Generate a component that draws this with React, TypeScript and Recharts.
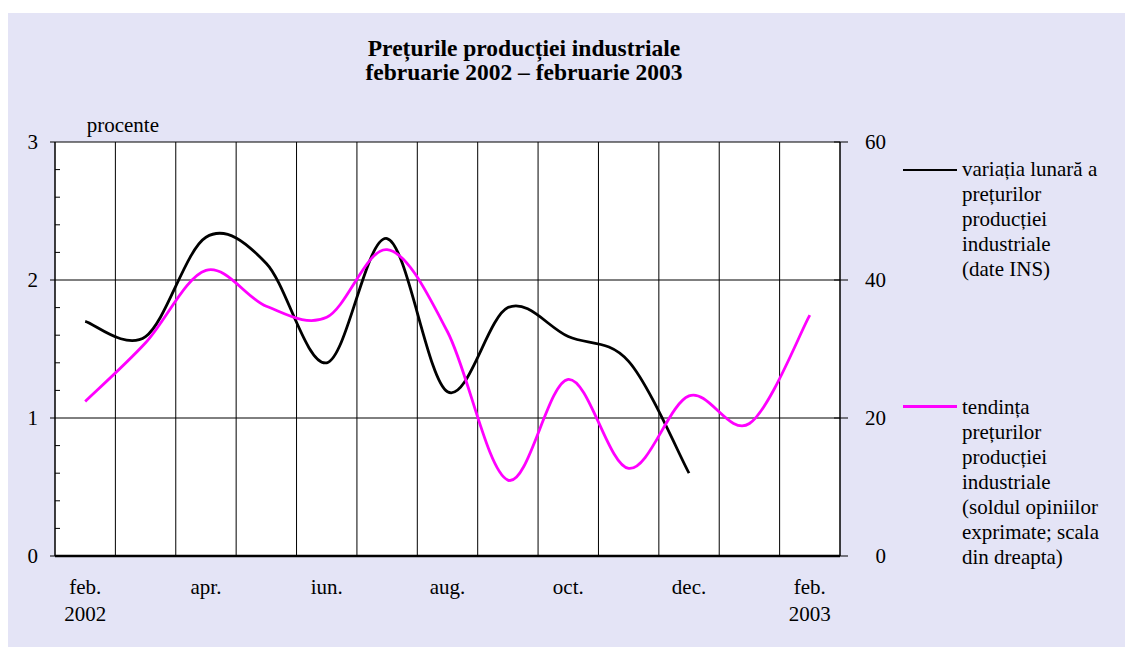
import React from "react";
import {
  CartesianGrid,
  ComposedChart,
  Legend,
  Line,
  XAxis,
  YAxis,
} from "recharts";

// feb. 2002 .. feb. 2003 ("|" splits the year onto a second line)
const months = [
  "feb.|2002", "mar.", "apr.", "mai", "iun.", "iul.", "aug.",
  "sep.", "oct.", "nov.", "dec.", "ian.", "feb.|2003",
];
// variatia lunara a preturilor (%), left scale
const monthlyChange = [1.7, 1.59, 2.31, 2.12, 1.4, 2.3, 1.19, 1.8, 1.59, 1.41, 0.6, null, null];
// tendinta preturilor (sold opinii), right scale
const priceTrend = [22.4, 30.9, 41.4, 36.2, 34.6, 44.4, 32.5, 11.0, 25.6, 12.7, 23.2, 19.2, 34.9];

const leftTicks = [0, 0.2, 0.4, 0.6, 0.8, 1, 1.2, 1.4, 1.6, 1.8, 2, 2.2, 2.4, 2.6, 2.8, 3];
const rightTicks = [0, 20, 40, 60];

const legendLines: Record<string, string[]> = {
  monthly: ["variația lunară a", "prețurilor", "producției", "industriale", "(date INS)"],
  trend: [
    "tendința", "prețurilor", "producției", "industriale",
    "(soldul opiniilor", "exprimate; scala", "din dreapta)",
  ],
};
const legendTop: Record<string, number> = { monthly: 0, trend: 238 };
const legendLineTop: Record<string, number> = { monthly: 11.2, trend: 9.8 };

const data = months.map((month, i) => ({
  month,
  monthly: monthlyChange[i],
  trend: priceTrend[i],
}));

const FONT = "'Liberation Serif', 'Times New Roman', serif";

// Excel-like smoothed line (Catmull-Rom through the points)
const smoothCurve = (context: any) => {
  let pts: [number, number][] = [];
  return {
    areaStart() {},
    areaEnd() {},
    lineStart() {
      pts = [];
    },
    point(x: number, y: number) {
      pts.push([+x, +y]);
    },
    lineEnd() {
      if (!pts.length) return;
      context.moveTo(pts[0][0], pts[0][1]);
      for (let i = 0; i < pts.length - 1; i++) {
        const p0 = pts[i - 1] || pts[i];
        const p1 = pts[i];
        const p2 = pts[i + 1];
        const p3 = pts[i + 2] || p2;
        context.bezierCurveTo(
          p1[0] + (p2[0] - p0[0]) / 6,
          p1[1] + (p2[1] - p0[1]) / 6,
          p2[0] - (p3[0] - p1[0]) / 6,
          p2[1] - (p3[1] - p1[1]) / 6,
          p2[0],
          p2[1]
        );
      }
    },
  };
};

// vertical grid lines on the month boundaries (edges of each month's band)
const monthBoundaries = ({ offset }: any) => {
  const step = offset.width / months.length;
  return [...months.map((_, i) => offset.left + i * step), offset.left + offset.width];
};

const MonthTick = (props: any) => {
  const { x, y, payload } = props;
  const [m, yr] = String(payload.value).split("|");
  return (
    <g>
      <text x={x} y={y + 38} textAnchor="middle" fontSize={21} fill="#000" fontFamily={FONT}>
        {m}
      </text>
      {yr && (
        <text x={x} y={y + 65} textAnchor="middle" fontSize={21} fill="#000" fontFamily={FONT}>
          {yr}
        </text>
      )}
    </g>
  );
};

const LeftTick = (props: any) => {
  const { x, y, payload } = props;
  const v = payload.value;
  if (Math.abs(v - Math.round(v)) > 1e-6) {
    return <line x1={x} x2={x + 5} y1={y} y2={y} stroke="#000" />;
  }
  return (
    <g>
      <line x1={x - 5} x2={x} y1={y} y2={y} stroke="#000" />
      <text x={x - 17} y={y + 7} textAnchor="end" fontSize={21} fill="#000" fontFamily={FONT}>
        {v}
      </text>
    </g>
  );
};

const RightTick = (props: any) => {
  const { x, y, payload } = props;
  return (
    <g>
      <line x1={x - 6} x2={x + 8} y1={y} y2={y} stroke="#000" />
      <text x={x + 46} y={y + 7} textAnchor="end" fontSize={21} fill="#000" fontFamily={FONT}>
        {payload.value}
      </text>
    </g>
  );
};

const renderLegend = (props: any) => (
  <div style={{ position: "relative", fontSize: 21, lineHeight: "25px", color: "#000", fontFamily: FONT }}>
    {(props.payload || []).map((p: any) => (
      <div key={p.dataKey} style={{ position: "absolute", left: 0, top: legendTop[p.dataKey], width: 230 }}>
        <div
          style={{
            position: "absolute",
            left: 0,
            top: legendLineTop[p.dataKey],
            width: 54,
            height: 2.8,
            background: p.color,
          }}
        />
        <div style={{ marginLeft: 59, whiteSpace: "nowrap" }}>
          {legendLines[p.dataKey].map((line) => (
            <div key={line}>{line}</div>
          ))}
        </div>
      </div>
    ))}
  </div>
);

export default function App() {
  return (
    <div
      style={{
        position: "absolute",
        left: 8,
        top: 13,
        width: 1117,
        height: 634,
        background: "#e4e4f6",
        fontFamily: FONT,
        color: "#000",
      }}
    >
      <div
        style={{
          position: "absolute",
          left: 316,
          top: 24.4,
          width: 400,
          textAlign: "center",
          fontSize: 23.5,
          fontWeight: "bold",
          lineHeight: "23.5px",
        }}
      >
        <div>Prețurile producției industriale</div>
        <div>februarie 2002 – februarie 2003</div>
      </div>
      <div style={{ position: "absolute", left: 78.7, top: 102.4, fontSize: 21, lineHeight: "21px" }}>
        procente
      </div>
      <ComposedChart
        width={1117}
        height={634}
        data={data}
        margin={{ top: 129, right: 225, bottom: 31, left: 7 }}
      >
        <CartesianGrid
          xAxisId="cat"
          yAxisId="right"
          fill="#fff"
          stroke="#000"
          strokeWidth={1}
          verticalCoordinatesGenerator={monthBoundaries}
        />
        <XAxis
          xAxisId="cat"
          dataKey="month"
          scale="band"
          interval={1}
          height={60}
          tickLine={false}
          tickSize={0}
          tickMargin={0}
          axisLine={{ stroke: "#000", strokeWidth: 2.5 }}
          tick={<MonthTick />}
        />
        <YAxis
          yAxisId="left"
          domain={[0, 3]}
          ticks={leftTicks}
          interval={0}
          width={40}
          tickLine={false}
          tickSize={0}
          tickMargin={0}
          axisLine={{ stroke: "#000" }}
          tick={<LeftTick />}
        />
        <YAxis
          yAxisId="right"
          orientation="right"
          domain={[0, 60]}
          ticks={rightTicks}
          interval={0}
          width={60}
          tickLine={false}
          tickSize={0}
          tickMargin={0}
          axisLine={{ stroke: "#000" }}
          tick={<RightTick />}
        />
        <Legend
          layout="vertical"
          align="center"
          verticalAlign="middle"
          wrapperStyle={{ left: 895, top: 144.4, width: 230, height: 440 }}
          content={renderLegend}
        />
        <Line
          xAxisId="cat"
          yAxisId="left"
          dataKey="monthly"
          name="variația lunară a prețurilor producției industriale (date INS)"
          type={smoothCurve as any}
          stroke="#000"
          strokeWidth={2.8}
          dot={false}
          activeDot={false}
          isAnimationActive={false}
        />
        <Line
          xAxisId="cat"
          yAxisId="right"
          dataKey="trend"
          name="tendința prețurilor producției industriale"
          type={smoothCurve as any}
          stroke="#ff00ff"
          strokeWidth={2.8}
          dot={false}
          activeDot={false}
          isAnimationActive={false}
        />
      </ComposedChart>
    </div>
  );
}
